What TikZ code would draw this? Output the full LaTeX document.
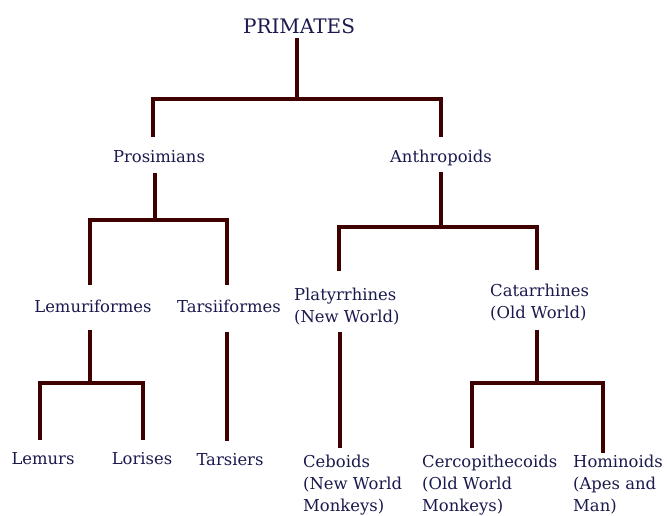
\documentclass[tikz,border=0pt]{standalone}
\usepackage{fontspec}
\setmainfont{DejaVu Serif}
\definecolor{branchcol}{HTML}{3F0000}
\definecolor{labelcol}{HTML}{1A1A4E}
\tikzset{
 branch/.style={draw=branchcol,line width=4pt,line join=miter},
 taxon/.style={text=labelcol,inner sep=0pt,font=\fontsize{16.4}{22}\selectfont,anchor=base},
 taxonl/.style={taxon,align=left,anchor=north west}
}
\begin{document}
\begin{tikzpicture}[x=1pt,y=-1pt]
\useasboundingbox[fill=white] (0,0) rectangle (667,515);
% labels
\node[taxon,font=\fontsize{20}{24}\selectfont] (primates) at (299,33) {PRIMATES};
\node[taxon] (pros) at (159,162) {Prosimians};
\node[taxon] (anth) at (441,162) {Anthropoids};
\node[taxon] (lemf) at (93,312) {Lemuriformes};
\node[taxon] (tarf) at (229,312) {Tarsiiformes};
\node[taxonl] (platy) at (294,288) {Platyrrhines\\(New World)};
\node[taxonl] (catar) at (490,284) {Catarrhines\\(Old World)};
\node[taxon] (lemurs) at (43,464) {Lemurs};
\node[taxon] (loris) at (142,464) {Lorises};
\node[taxon] (tars) at (230,465) {Tarsiers};
\node[taxonl] (cebo) at (303,455) {Ceboids\\(New World\\Monkeys)};
\node[taxonl] (cerco) at (422,455) {Cercopithecoids\\(Old World\\Monkeys)};
\node[taxonl] (homi) at (573,455) {Hominoids\\(Apes and\\Man)};
% line ends
\coordinate (p0) at (297,38);
\coordinate (p1) at (297,99);
\coordinate (pl) at (153,137);
\coordinate (pr) at (441,137);
\coordinate (s0) at (155,173);
\coordinate (s1) at (155,220);
\coordinate (sl) at (90,285);
\coordinate (sr) at (227,285);
\coordinate (a0) at (441,172);
\coordinate (a1) at (441,227);
\coordinate (al) at (339,271);
\coordinate (ar) at (537,270);
\coordinate (l0) at (90,330);
\coordinate (l1) at (90,383);
\coordinate (ll) at (40,440);
\coordinate (lr) at (143,440);
\coordinate (t0) at (227,332);
\coordinate (t1) at (227,441);
\coordinate (n0) at (340,332);
\coordinate (n1) at (340,448);
\coordinate (c0) at (537,330);
\coordinate (c1) at (537,383);
\coordinate (cl) at (472,448);
\coordinate (cr) at (603,453);
% branches
\draw[branch] (p0)--(p1);
\draw[branch] (pl) |- (p1) -| (pr);
\draw[branch] (s0)--(s1);
\draw[branch] (sl) |- (s1) -| (sr);
\draw[branch] (a0)--(a1);
\draw[branch] (al) |- (a1) -| (ar);
\draw[branch] (l0)--(l1);
\draw[branch] (ll) |- (l1) -| (lr);
\draw[branch] (t0)--(t1);
\draw[branch] (n0)--(n1);
\draw[branch] (c0)--(c1);
\draw[branch] (cl) |- (c1) -| (cr);
\end{tikzpicture}
\end{document}
